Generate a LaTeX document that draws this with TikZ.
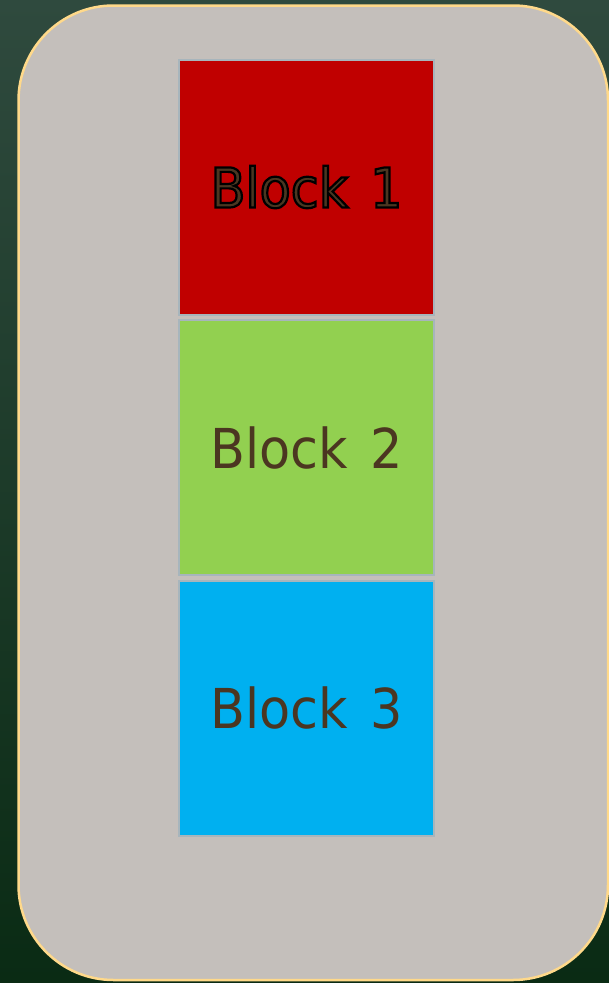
\documentclass[tikz,border=0pt]{standalone}
\usepackage{fontspec}
\usetikzlibrary{positioning}
\newfontfamily\blockfont[FakeStretch=0.925, WordSpace=1.35]{DejaVu Sans}
\newcommand{\outlined}[1]{\special{pdf:code q 2 Tr 2.2 w 0 0 0 RG}#1\special{pdf:code Q}}
\definecolor{bgtop}{HTML}{2F4A3E}
\definecolor{bgbottom}{HTML}{0A2B14}
\definecolor{panelgray}{HTML}{C4BFBB}
\definecolor{panelrim}{HTML}{FFD98A}
\definecolor{blockrim}{HTML}{A7B5BC}
\definecolor{labelbrown}{HTML}{4B3621}
\definecolor{redblk}{HTML}{C00000}
\definecolor{greenblk}{HTML}{92D050}
\definecolor{blueblk}{HTML}{00B0F0}

\begin{document}
\begin{tikzpicture}[
  x=1pt, y=-1pt,
  blk/.style={draw=blockrim, line width=2pt, minimum width=255pt, minimum height=255pt,
    inner sep=0pt, text=labelbrown, font=\blockfont\fontsize{55}{60}\selectfont},
  node distance=3.5pt
]
  \useasboundingbox (0,0) rectangle (609,983);
  \shade[top color=bgtop, bottom color=bgbottom] (0,0) rectangle (609,983);
  \draw[fill=panelgray, draw=panelrim, line width=2.5pt, rounded corners=95pt]
    (18.5,5.5) rectangle (608,980);

  \node[blk, fill=redblk] (blk1) at (306.5,187) {\outlined{Block 1}};
  \node[blk, fill=greenblk, below=of blk1] (blk2) {Block 2};
  \node[blk, fill=blueblk, below=of blk2]  (blk3) {Block 3};
\end{tikzpicture}
\end{document}
